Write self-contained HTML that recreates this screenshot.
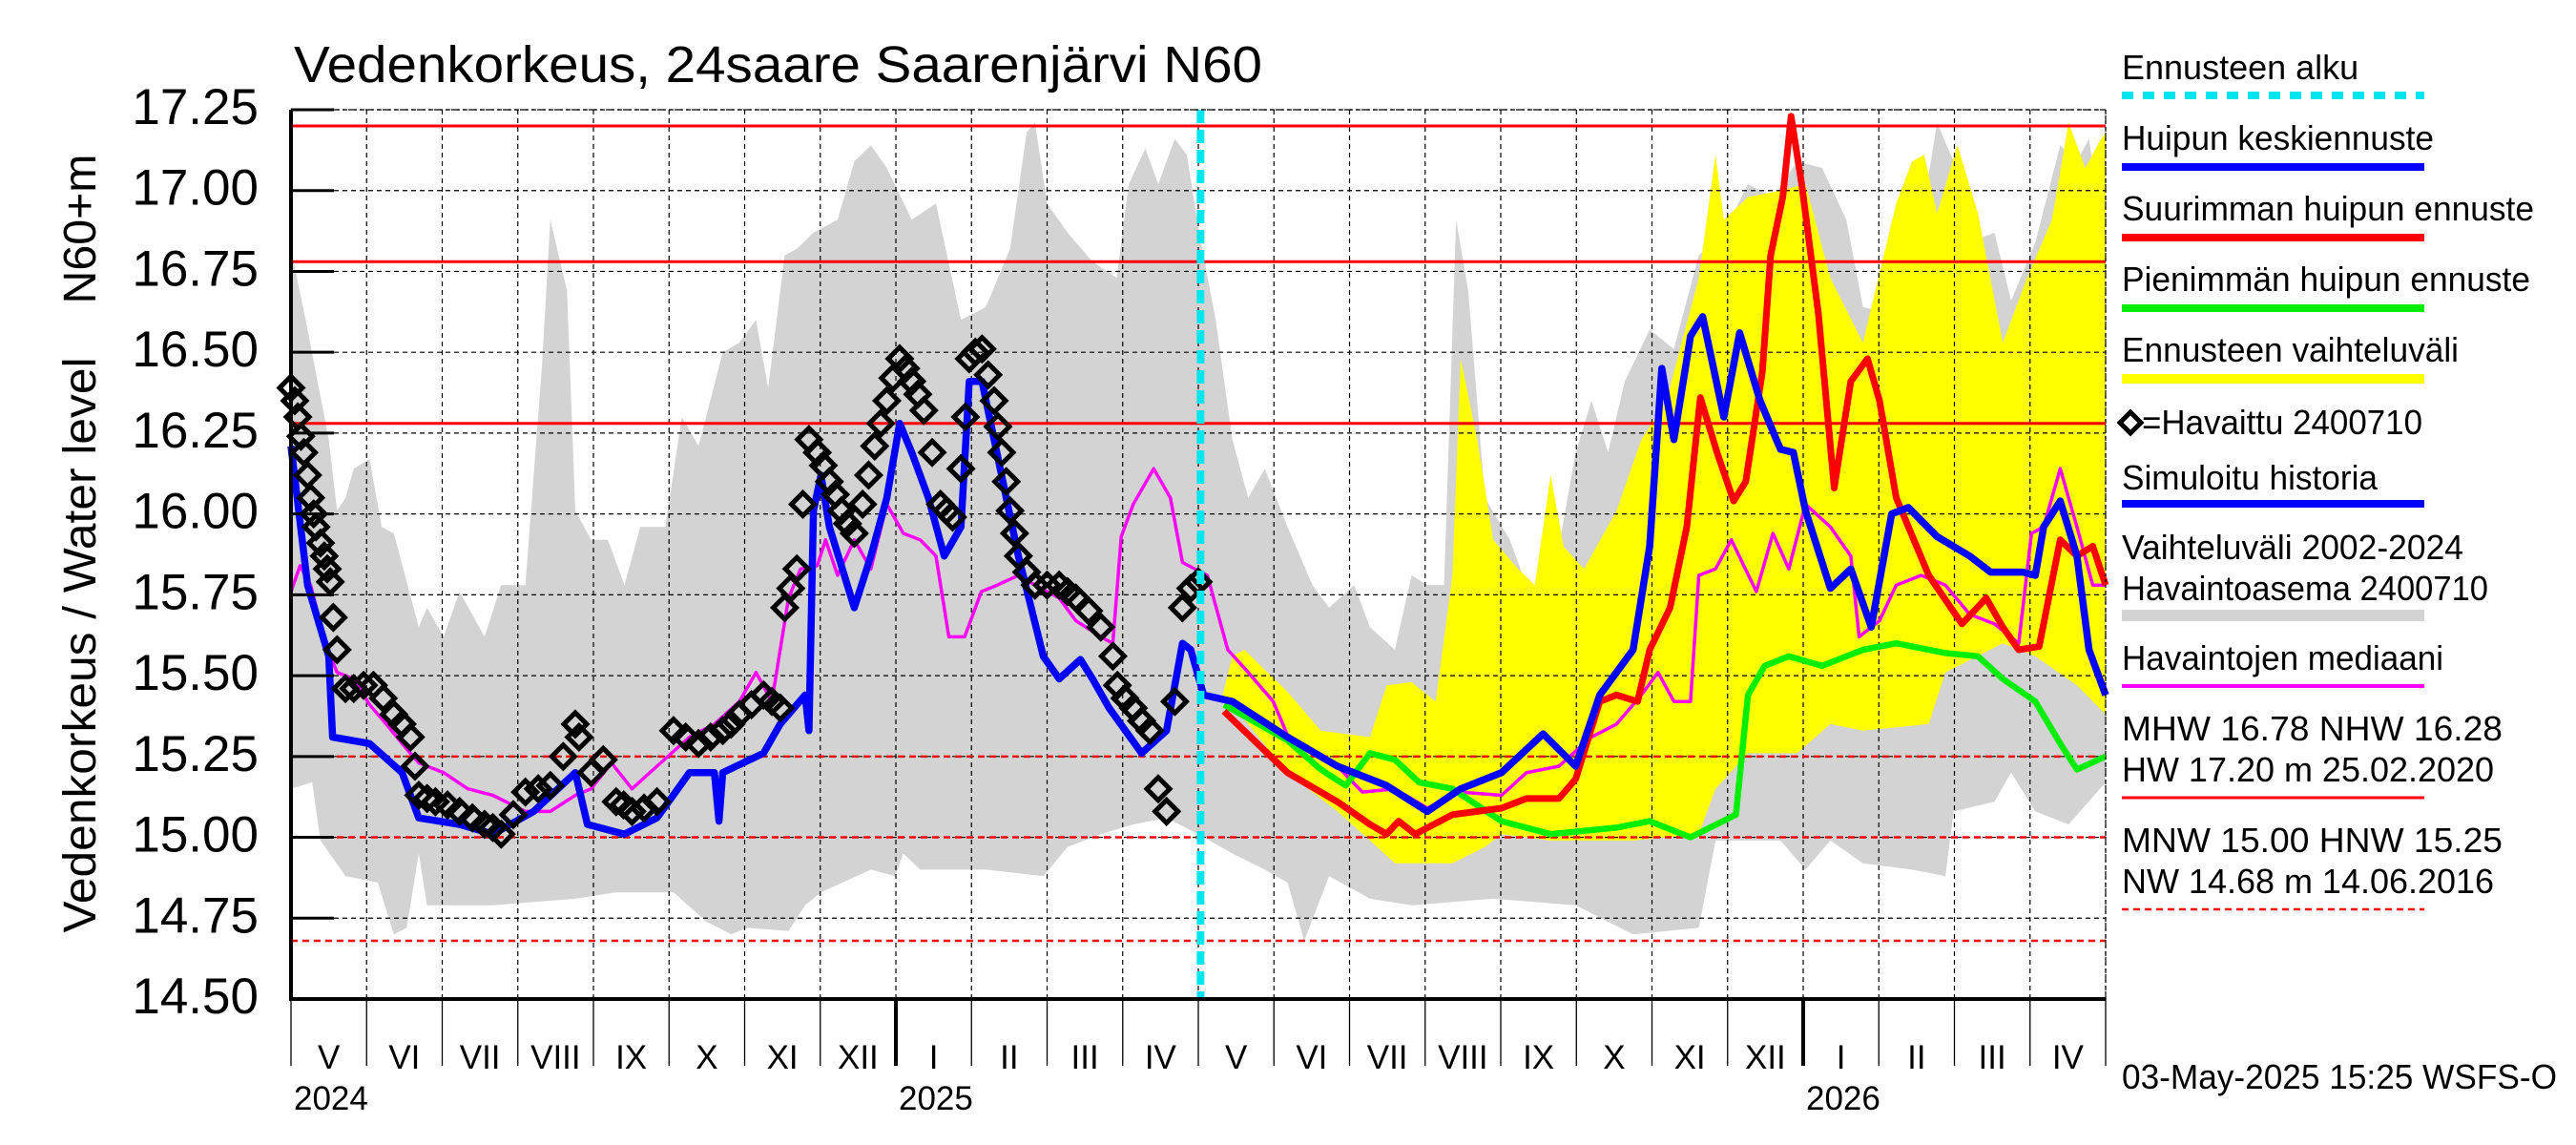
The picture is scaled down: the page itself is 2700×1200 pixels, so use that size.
<!DOCTYPE html>
<html><head><meta charset="utf-8"><style>
html,body{margin:0;padding:0;background:#fff;}
svg{display:block;font-family:"Liberation Sans",sans-serif;}
</style></head><body>
<svg id="chart" width="2700" height="1200" viewBox="0 0 2700 1200" xmlns="http://www.w3.org/2000/svg">
<rect width="2700" height="1200" fill="#fff"/>
<text x="308" y="86" font-size="54" textLength="1015" lengthAdjust="spacingAndGlyphs">Vedenkorkeus, 24saare Saarenjärvi N60</text>
<text transform="translate(100,676) rotate(-90)" text-anchor="middle" font-size="48" textLength="603" lengthAdjust="spacingAndGlyphs">Vedenkorkeus / Water level</text>
<text transform="translate(100,240) rotate(-90)" text-anchor="middle" font-size="48" textLength="157" lengthAdjust="spacingAndGlyphs">N60+m</text>
<g id="bands"></g><g id="grid"></g><g id="refs"></g><g id="series"></g><g id="obs"></g><g id="axes"></g><g id="legend"></g>
</svg>
<script>
// ---- data (x in months since 1 May 2024) ----
const yTicks = [14.50,14.75,15.00,15.25,15.50,15.75,16.00,16.25,16.50,16.75,17.00,17.25];
const monthLabels = ["V","VI","VII","VIII","IX","X","XI","XII","I","II","III","IV","V","VI","VII","VIII","IX","X","XI","XII","I","II","III","IV"];
const yearLabels = ["2024","2025","2026"];
const yearMonths = [0,8,20];
const refSolid = [17.20,16.78,16.28];
const refDashed = [15.25,15.00,14.68];
const forecastStart = 12.03;

const blueM = [0,0.22,0.5,0.55,1.04,1.47,1.69,2.23,2.67,3.21,3.76,3.92,4.41,4.84,5.27,5.6,5.66,5.71,6.25,6.47,6.8,6.85,6.91,7.01,7.12,7.45,7.67,7.88,8.05,8.21,8.43,8.64,8.86,8.97,9.14,9.3,9.62,9.95,10.16,10.44,10.6,10.82,11.25,11.58,11.79,11.9,12.07,12.45,13.18,13.84,14.49,15.03,15.47,16.01,16.56,16.99,17.31,17.75,17.97,18.13,18.29,18.51,18.67,18.95,19.16,19.43,19.7,19.87,20.03,20.36,20.63,20.9,21.17,21.39,21.77,22.2,22.48,22.91,23.07,23.18,23.4,23.62,23.78,24];
const blueV = [16.21,15.78,15.56,15.31,15.29,15.20,15.06,15.04,15.01,15.08,15.20,15.04,15.01,15.06,15.20,15.20,15.05,15.20,15.26,15.35,15.44,15.33,16.01,16.12,15.96,15.71,15.87,16.05,16.28,16.19,16.05,15.87,15.96,16.41,16.41,16.23,15.87,15.56,15.49,15.55,15.49,15.40,15.26,15.33,15.60,15.58,15.44,15.42,15.31,15.22,15.16,15.08,15.15,15.20,15.32,15.22,15.44,15.58,15.90,16.45,16.23,16.55,16.61,16.30,16.56,16.35,16.20,16.19,16.01,15.77,15.83,15.65,16.00,16.02,15.93,15.87,15.82,15.82,15.81,15.96,16.04,15.87,15.58,15.44];

const redM = [12.34,13.18,13.84,14.27,14.49,14.65,14.87,15.36,16.01,16.34,16.77,16.99,17.31,17.53,17.81,17.97,18.24,18.46,18.64,18.86,19.08,19.24,19.46,19.57,19.73,19.84,19.98,20.2,20.41,20.63,20.85,21.01,21.23,21.66,22.1,22.42,22.64,22.85,23.12,23.4,23.62,23.83,24];
const redV = [15.39,15.20,15.11,15.04,15.01,15.05,15.01,15.07,15.09,15.12,15.12,15.18,15.42,15.44,15.42,15.58,15.71,15.96,16.36,16.19,16.04,16.10,16.44,16.80,16.98,17.23,17.02,16.62,16.08,16.41,16.48,16.35,16.05,15.81,15.66,15.74,15.65,15.58,15.59,15.92,15.87,15.90,15.78];

const greenM = [12.34,13.18,13.62,13.95,14.27,14.6,14.92,15.36,16.01,16.66,17.53,17.97,18.51,19.11,19.27,19.49,19.81,20.25,20.79,21.23,21.88,22.31,22.64,23.07,23.4,23.62,24];
const greenV = [15.41,15.30,15.21,15.16,15.26,15.24,15.17,15.15,15.05,15.01,15.03,15.05,15.00,15.07,15.44,15.53,15.56,15.53,15.58,15.60,15.57,15.56,15.49,15.42,15.29,15.21,15.25];

const medianM = [0,0.12,0.26,0.45,0.61,0.83,1.04,1.26,1.47,1.69,2.02,2.34,2.67,3.1,3.43,3.76,3.97,4.24,4.51,4.84,5.27,5.6,5.93,6.15,6.36,6.58,6.74,6.96,7.07,7.23,7.45,7.67,7.88,8.1,8.32,8.53,8.7,8.91,9.13,9.34,9.62,9.84,10.16,10.38,10.71,10.87,10.98,11.14,11.41,11.63,11.79,12.12,12.39,12.66,12.99,13.19,13.51,13.84,14.17,14.6,15.03,15.47,16.01,16.34,16.77,17.2,17.53,17.86,18.08,18.29,18.51,18.62,18.84,19.05,19.38,19.6,19.81,20.03,20.36,20.63,20.74,21.01,21.23,21.56,21.88,22.2,22.53,22.85,23.02,23.18,23.4,23.62,23.83,24];
const medianV = [15.76,15.84,15.78,15.60,15.51,15.49,15.41,15.35,15.29,15.23,15.20,15.15,15.13,15.08,15.08,15.13,15.15,15.23,15.15,15.22,15.31,15.35,15.42,15.51,15.42,15.74,15.83,15.84,15.92,15.81,15.92,15.83,16.03,15.94,15.92,15.87,15.62,15.62,15.76,15.78,15.81,15.78,15.74,15.67,15.62,15.60,15.93,16.03,16.14,16.05,15.85,15.81,15.58,15.51,15.42,15.31,15.27,15.22,15.14,15.15,15.09,15.14,15.13,15.20,15.22,15.31,15.35,15.44,15.51,15.42,15.42,15.81,15.83,15.92,15.76,15.94,15.83,16.03,15.96,15.87,15.62,15.67,15.78,15.81,15.78,15.69,15.66,15.60,15.94,15.96,16.14,15.96,15.78,15.78];

const obsM = [0,0.05,0.09,0.13,0.17,0.22,0.26,0.3,0.33,0.39,0.44,0.48,0.52,0.56,0.61,0.72,0.83,0.96,1.09,1.22,1.36,1.47,1.58,1.64,1.69,1.8,1.91,2.07,2.23,2.4,2.56,2.67,2.78,2.94,3.1,3.27,3.43,3.6,3.76,3.81,3.97,4.13,4.3,4.4,4.51,4.67,4.84,5.06,5.22,5.39,5.55,5.71,5.82,5.93,6.09,6.25,6.36,6.47,6.53,6.61,6.69,6.77,6.85,6.96,7.04,7.12,7.2,7.28,7.36,7.45,7.56,7.64,7.72,7.8,7.88,7.96,8.05,8.13,8.21,8.29,8.37,8.48,8.59,8.67,8.75,8.86,8.92,8.97,9.05,9.14,9.22,9.3,9.35,9.4,9.46,9.51,9.57,9.62,9.73,9.84,10.0,10.16,10.27,10.38,10.55,10.71,10.87,10.93,11.03,11.14,11.25,11.36,11.47,11.58,11.69,11.79,11.9,12.0];
const obsV = [16.39,16.35,16.30,16.24,16.19,16.12,16.05,16.00,15.96,15.91,15.87,15.83,15.79,15.68,15.58,15.46,15.46,15.47,15.47,15.43,15.38,15.35,15.31,15.22,15.13,15.12,15.11,15.10,15.08,15.06,15.04,15.03,15.01,15.07,15.14,15.15,15.16,15.25,15.35,15.31,15.20,15.24,15.11,15.10,15.08,15.09,15.11,15.33,15.31,15.29,15.31,15.33,15.35,15.38,15.41,15.44,15.42,15.40,15.71,15.77,15.83,16.03,16.23,16.19,16.15,16.10,16.06,16.01,15.97,15.94,16.03,16.12,16.21,16.28,16.35,16.42,16.48,16.45,16.41,16.37,16.32,16.19,16.03,16.01,15.99,16.14,16.30,16.48,16.50,16.51,16.43,16.35,16.27,16.19,16.10,16.01,15.94,15.87,15.82,15.78,15.78,15.78,15.76,15.74,15.70,15.65,15.56,15.47,15.43,15.40,15.36,15.33,15.15,15.08,15.42,15.71,15.77,15.79];

const grayUpM = [0,0.22,0.5,0.61,0.72,0.83,1.04,1.2,1.36,1.69,1.8,2.02,2.23,2.56,2.78,3.1,3.32,3.43,3.65,3.76,3.97,4.19,4.41,4.62,4.95,5.17,5.39,5.71,5.93,6.15,6.31,6.53,6.69,6.91,7.23,7.45,7.67,7.88,8.21,8.53,8.86,9.19,9.51,9.73,9.84,10.0,10.27,10.6,10.92,11.08,11.3,11.47,11.69,11.85,12.01,12.23,12.45,12.66,12.88,13.18,13.51,13.73,14.06,14.27,14.6,14.82,15.03,15.25,15.41,15.57,15.79,16.12,16.34,16.56,16.77,16.99,17.2,17.42,17.64,17.97,18.29,18.62,18.95,19.27,19.6,19.92,20.25,20.57,20.79,21.12,21.44,21.77,21.99,22.2,22.53,22.75,23.07,23.4,23.62,23.78,24];
const grayUpV = [16.82,16.57,16.23,16.01,16.05,16.14,16.17,15.96,15.94,15.65,15.71,15.62,15.76,15.62,15.78,15.78,16.46,16.91,16.69,16.01,15.92,15.92,15.78,15.96,15.96,16.30,16.21,16.50,16.53,16.60,16.39,16.80,16.82,16.87,16.91,17.09,17.14,17.07,16.91,16.96,16.60,16.64,16.82,17.18,17.21,16.96,16.87,16.78,16.73,17.02,17.13,17.02,17.16,17.11,16.87,16.60,16.23,16.05,16.14,15.96,15.78,15.71,15.78,15.65,15.58,15.81,15.78,15.78,16.91,16.69,16.05,15.92,15.78,15.60,15.90,16.19,16.35,16.19,16.41,16.57,16.51,16.80,16.87,17.02,16.98,17.09,17.07,16.91,16.64,16.62,16.73,17.21,17.09,16.84,16.87,16.66,16.84,17.14,17.09,17.16,16.80];
const grayLoM = [0,0.28,0.39,0.72,1.15,1.36,1.53,1.69,1.8,2.67,3.76,4.3,5.06,5.49,5.82,6.04,6.58,6.8,7.01,7.67,7.99,8.1,8.32,9.19,9.95,10.27,10.71,11.14,11.58,12.0,12.45,12.88,13.18,13.4,13.73,14.27,14.82,15.9,16.99,17.75,18.62,18.84,19.7,20.03,20.36,20.79,21.44,21.88,21.99,22.53,22.75,23.07,23.51,24];
const grayLoV = [15.15,15.17,14.99,14.88,14.86,14.70,14.72,14.95,14.79,14.79,14.81,14.83,14.83,14.74,14.70,14.72,14.71,14.79,14.83,14.90,14.88,14.95,14.90,14.90,14.88,14.97,15.01,15.04,15.06,15.01,14.95,14.90,14.86,14.68,14.88,14.81,14.79,14.81,14.79,14.70,14.72,14.99,14.99,14.90,14.99,14.92,14.90,14.88,15.08,15.11,15.20,15.08,15.04,15.17];

const yelUpM = [12.3,12.45,12.61,13.18,13.62,14.27,14.49,14.82,15.14,15.36,15.47,15.69,15.9,16.23,16.45,16.66,16.83,17.1,17.53,17.86,18.19,18.62,18.84,18.95,19.27,19.7,20.03,20.36,20.79,21.23,21.44,21.6,21.77,22.04,22.31,22.64,22.96,23.29,23.51,23.73,23.94,24];
const yelUpV = [15.42,15.56,15.58,15.45,15.33,15.31,15.47,15.48,15.42,15.81,16.48,16.23,15.92,15.83,15.78,16.12,15.90,15.83,16.01,16.23,16.35,16.73,17.11,16.91,16.98,17.00,17.02,16.73,16.53,16.96,17.09,17.11,16.93,17.14,16.93,16.53,16.73,16.91,17.21,17.07,17.16,17.18];
const yelLoM = [12.3,12.45,13.18,13.84,14.27,14.6,15.36,15.79,16.01,16.66,17.75,18.62,18.84,19.27,19.92,20.36,20.79,21.66,21.88,22.64,23.07,23.62,24];
const yelLoV = [15.42,15.41,15.20,15.08,14.99,14.92,14.92,14.97,15.01,14.99,14.99,15.01,15.15,15.26,15.26,15.35,15.33,15.35,15.51,15.60,15.56,15.47,15.38];

// ---- axes ----
const X0 = 305, X1 = 2207, YT = 115, YB = 1047;
const x = m => X0 + m * (X1 - X0) / 24;
const y = v => YB - (v - 14.5) / 2.75 * (YB - YT);
const NS = "http://www.w3.org/2000/svg";
function mk(tag, attrs, parent) {
  const e = document.createElementNS(NS, tag);
  for (const k in attrs) e.setAttribute(k, attrs[k]);
  parent.appendChild(e);
  return e;
}
const pts = (ms, vs) => ms.map((m, i) => x(m).toFixed(1) + "," + y(vs[i]).toFixed(1)).join(" ");
const G = id => document.getElementById(id);

// grid
const grid = G("grid");
for (let i = 1; i <= 24; i++) {
  const l = mk("line", {x1: x(i), x2: x(i), y1: YT, y2: YB, stroke: "#000", "stroke-width": 1.2, "stroke-dasharray": "5,4"}, grid);
  
  
}
yTicks.forEach(v => {
  const l = mk("line", {x1: X0, x2: X1, y1: y(v), y2: y(v), stroke: "#000", "stroke-width": 1.2, "stroke-dasharray": "5,4"}, grid);
  
  
});

// bands
const bands = G("bands");
const gb = mk("polygon", {points: pts(grayUpM, grayUpV) + " " + pts(grayLoM.slice().reverse(), grayLoV.slice().reverse()), fill: "#d3d3d3"}, bands);


const yb = mk("polygon", {points: pts(yelUpM, yelUpV) + " " + pts(yelLoM.slice().reverse(), yelLoV.slice().reverse()), fill: "#ffff00"}, bands);



// reference lines
const refs = G("refs");
refSolid.forEach(v => {
  const l = mk("line", {x1: X0, x2: X1, y1: y(v), y2: y(v), stroke: "#ff0000", "stroke-width": 3}, refs);
  
  
});
refDashed.forEach(v => {
  const l = mk("line", {x1: X0, x2: X1, y1: y(v), y2: y(v), stroke: "#ff0000", "stroke-width": 2.5, "stroke-dasharray": "7,5"}, refs);
  
  
});

// series
const ser = G("series");
const sm = mk("polyline", {points: pts(medianM, medianV), fill: "none", stroke: "#ff00ff", "stroke-width": 3.5, "stroke-linejoin": "round"}, ser);


const sg = mk("polyline", {points: pts(greenM, greenV), fill: "none", stroke: "#00ee00", "stroke-width": 6.5, "stroke-linejoin": "round"}, ser);


const sr = mk("polyline", {points: pts(redM, redV), fill: "none", stroke: "#ff0000", "stroke-width": 7, "stroke-linejoin": "round"}, ser);


const sb = mk("polyline", {points: pts(blueM, blueV), fill: "none", stroke: "#0000ff", "stroke-width": 7.5, "stroke-linejoin": "round"}, ser);



// observations
const obs = G("obs");
obsM.forEach((m, i) => {
  const cx = x(m), cy = y(obsV[i]), r = 12;
  const d = mk("polygon", {points: `${cx},${cy - r} ${cx + r},${cy} ${cx},${cy + r} ${cx - r},${cy}`, fill: "none", stroke: "#000", "stroke-width": 5}, obs);
  
  
});

// axes
const ax = G("axes");
const cy1 = mk("line", {x1: x(forecastStart), x2: x(forecastStart), y1: YT, y2: YB, stroke: "#00e5ee", "stroke-width": 8, "stroke-dasharray": "14,7"}, ax);


const fr = mk("rect", {x: X0, y: YT, width: X1 - X0, height: YB - YT, fill: "none", stroke: "#000", "stroke-width": 1.2, "stroke-dasharray": "3,3"}, ax);


const la = mk("line", {x1: X0, x2: X0, y1: YT, y2: YB + 2, stroke: "#000", "stroke-width": 4}, ax);


const ba = mk("line", {x1: X0 - 2, x2: X1, y1: YB, y2: YB, stroke: "#000", "stroke-width": 4}, ax);


yTicks.forEach(v => {
  const t = mk("line", {x1: X0, x2: X0 + 45, y1: y(v), y2: y(v), stroke: "#000", "stroke-width": 3}, ax);
  
  
  const tx = mk("text", {x: 271, y: y(v) + 15, "text-anchor": "end", "font-size": 53}, ax);
  tx.textContent = v.toFixed(2);
  
  
});
for (let i = 0; i <= 24; i++) {
  const isYear = yearMonths.includes(i) && i > 0;
  const t = mk("line", {x1: x(i), x2: x(i), y1: YB, y2: 1117, stroke: "#000", "stroke-width": isYear ? 4 : 1.3}, ax);
  
  
}
monthLabels.forEach((lab, i) => {
  const t = mk("text", {x: x(i + 0.5), y: 1120, "text-anchor": "middle", "font-size": 35}, ax);
  t.textContent = lab;
  
  
});
yearLabels.forEach((lab, i) => {
  const t = mk("text", {x: x(yearMonths[i]) + 3, y: 1163, "font-size": 35}, ax);
  t.textContent = lab;
  
  
});

// legend
const lg = G("legend");
const LX = 2224, LX2 = 2541;
function ltext(s, yy, name, len) {
  const t = mk("text", {x: LX, y: yy, "font-size": 36}, lg);
  if (len) { t.setAttribute("textLength", len); t.setAttribute("lengthAdjust", "spacingAndGlyphs"); }
  t.textContent = s;
  
  
}
function lline(yy, color, w, dash, name) {
  const l = mk("line", {x1: LX, x2: LX2, y1: yy, y2: yy, stroke: color, "stroke-width": w}, lg);
  if (dash) l.setAttribute("stroke-dasharray", dash);
  
  
}
ltext("Ennusteen alku", 83, "legend-forecast-start-label");
lline(100, "#00e5ee", 8, "12,10", "legend-forecast-start-swatch");
ltext("Huipun keskiennuste", 157, "legend-mean-forecast-label", 327);
lline(175, "#0000ff", 8, null, "legend-mean-forecast-swatch");
ltext("Suurimman huipun ennuste", 231, "legend-max-forecast-label", 432);
lline(249, "#ff0000", 8, null, "legend-max-forecast-swatch");
ltext("Pienimmän huipun ennuste", 305, "legend-min-forecast-label", 428);
lline(323, "#00ee00", 8, null, "legend-min-forecast-swatch");
ltext("Ennusteen vaihteluväli", 379, "legend-forecast-range-label", 353);
lline(397, "#ffff00", 10, null, "legend-forecast-range-swatch");
const ld = mk("polygon", {points: "2233,432 2244,443 2233,454 2222,443", fill: "none", stroke: "#000", "stroke-width": 5}, lg);


const lo = mk("text", {x: 2245, y: 455, "font-size": 36, textLength: 294, lengthAdjust: "spacingAndGlyphs"}, lg);
lo.textContent = "=Havaittu 2400710";


ltext("Simuloitu historia", 513, "legend-simulated-label", 268);
lline(528, "#0000ff", 8, null, "legend-simulated-swatch");
ltext("Vaihteluväli 2002-2024", 586, "legend-hist-range-label-1", 358);
ltext(" Havaintoasema 2400710", 629, "legend-hist-range-label-2", 384);
lline(645, "#d3d3d3", 12, null, "legend-hist-range-swatch");
ltext("Havaintojen mediaani", 702, "legend-median-label", 337);
lline(719, "#ff00ff", 4, null, "legend-median-swatch");
ltext("MHW  16.78 NHW  16.28", 776, "legend-mhw-text", 399);
ltext("HW  17.20 m 25.02.2020", 819, "legend-hw-text", 390);
lline(836, "#ff0000", 3, null, "legend-high-ref-swatch");
ltext("MNW  15.00 HNW  15.25", 893, "legend-mnw-text", 399);
ltext("NW  14.68 m 14.06.2016", 936, "legend-nw-text", 390);
lline(953, "#ff0000", 2.5, "7,5", "legend-low-ref-swatch");
ltext("03-May-2025 15:25 WSFS-O", 1141, "timestamp-label", 456);
</script>
</body></html>
